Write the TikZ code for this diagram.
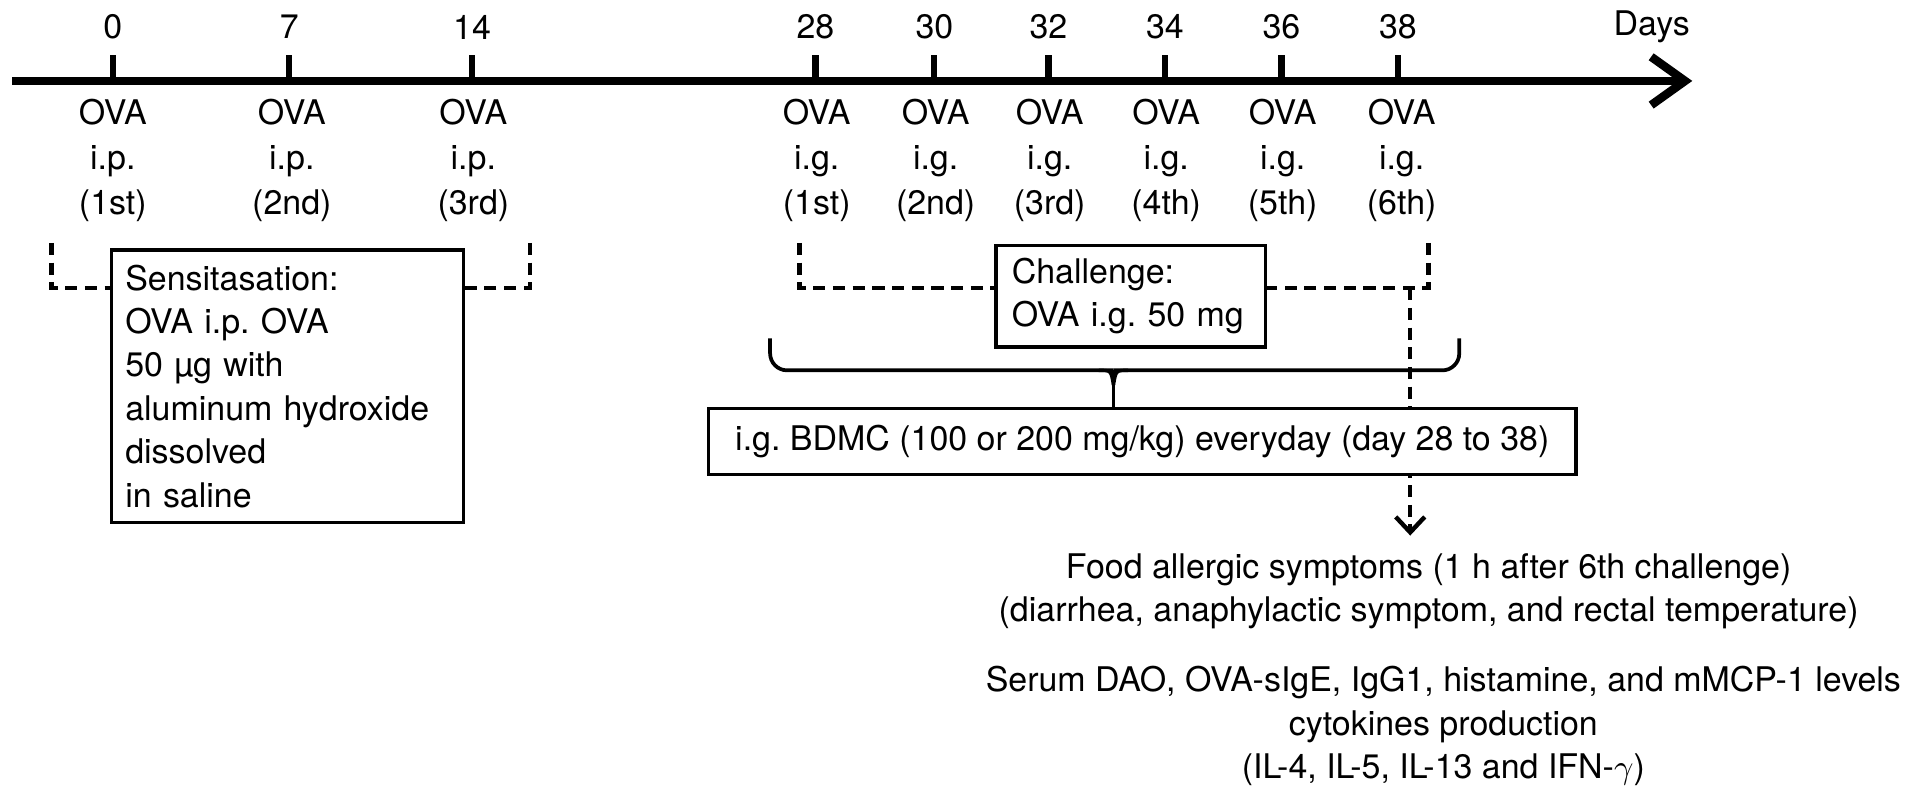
\documentclass[tikz,border=0pt]{standalone}
\usepackage{fontspec}
\setmainfont{TeX Gyre Heros}
\usepackage{tikz}
\usetikzlibrary{arrows.meta}
\frenchspacing

\begin{document}
\begin{tikzpicture}[x=0.0127cm, y=-0.0127cm, >={Straight Barb[length=1.6mm,width=3mm]},
    every node/.style={font=\fontsize{10}{12.8}\selectfont},
    dayLabel/.style={inner sep=1pt},
    doseLabel/.style={align=center, inner sep=1pt, font=\fontsize{10}{13.3}\selectfont},
    dayTick/.style={line width=1.8pt},
    infoBox/.style={rectangle, draw, line width=1pt, fill=white, inner sep=0pt},
    dashLine/.style={line width=1.3pt, dash pattern=on 3.6pt off 2.2pt},
    braceLine/.style={line width=1.1pt, rounded corners=5pt}]
    \useasboundingbox (0,0) rectangle (1560,648);
    % Time axis
    \coordinate (axisStart) at (10,66);
    \coordinate (axisEnd) at (1380,66);
    \draw[line width=2.5pt, -{Straight Barb[length=3.5mm,width=5mm]}] (axisStart) -- (axisEnd);
    \node[dayLabel] (daysLabel) at (1347,22) {Days};
    % Ticks: sensitisation
    \draw[dayTick] (92,66) -- (92,45);
    \draw[dayTick] (236,66) -- (236,45);
    \draw[dayTick] (385,66) -- (385,45);
    % Ticks: challenge
    \draw[dayTick] (665,66) -- (665,45);
    \draw[dayTick] (762,66) -- (762,45);
    \draw[dayTick] (855,66) -- (855,45);
    \draw[dayTick] (950,66) -- (950,45);
    \draw[dayTick] (1045,66) -- (1045,45);
    \draw[dayTick] (1140,66) -- (1140,45);
    % Day numbers
    \node[dayLabel] (day0) at (92,22) {0};
    \node[dayLabel] (day7) at (236,22) {7};
    \node[dayLabel] (day14) at (385,22) {14};
    \node[dayLabel] (day28) at (665,22) {28};
    \node[dayLabel] (day30) at (762,22) {30};
    \node[dayLabel] (day32) at (855,22) {32};
    \node[dayLabel] (day34) at (950,22) {34};
    \node[dayLabel] (day36) at (1045,22) {36};
    \node[dayLabel] (day38) at (1140,22) {38};
    % Doses under the axis
    \node[doseLabel] (dose0) at (92,131) {OVA\\i.p.\\(1st)};
    \node[doseLabel] (dose7) at (238,131) {OVA\\i.p.\\(2nd)};
    \node[doseLabel] (dose14) at (386,131) {OVA\\i.p.\\(3rd)};
    \node[doseLabel] (dose28) at (666,131) {OVA\\i.g.\\(1st)};
    \node[doseLabel] (dose30) at (763,131) {OVA\\i.g.\\(2nd)};
    \node[doseLabel] (dose32) at (856,131) {OVA\\i.g.\\(3rd)};
    \node[doseLabel] (dose34) at (951,131) {OVA\\i.g.\\(4th)};
    \node[doseLabel] (dose36) at (1046,131) {OVA\\i.g.\\(5th)};
    \node[doseLabel] (dose38) at (1143,131) {OVA\\i.g.\\(6th)};
    % Rectangle: Sensitasation
    \node[infoBox, minimum width=3.645cm, minimum height=2.82cm, text width=3.36cm, align=left] (sensitisation) at (234.5,315) {Sensitasation:\\OVA i.p. OVA\\50 µg with\\aluminum hydroxide\\dissolved\\in saline};
    \coordinate (sensBracketL) at (42,198);
    \coordinate (sensBracketR) at (432,198);
    \draw[dashLine] (sensBracketL) |- (sensitisation.west |- 0,235);
    \draw[dashLine] (sensBracketR) |- (sensitisation.east |- 0,235);
    % Rectangle: Challenge
    \node[infoBox, minimum width=2.79cm, minimum height=1.054cm, text width=2.46cm, align=left] (challenge) at (922,241.5) {Challenge:\\OVA i.g. 50 mg};
    \coordinate (chalBracketL) at (652,198);
    \coordinate (chalBracketR) at (1165,198);
    \draw[dashLine] (chalBracketL) |- (challenge.west |- 0,235);
    \draw[dashLine] (chalBracketR) |- (challenge.east |- 0,235);
    % Read-outs
    \node[align=center, inner sep=1pt] (foodSymptoms) at (1165,482) {Food allergic symptoms (1 h after 6th challenge)\\(diarrhea, anaphylactic symptom, and rectal temperature)};
    \node[align=center, inner sep=1pt] (serumLevels) at (1177,592) {Serum DAO, OVA-sIgE, IgG1, histamine, and mMCP-1 levels\\cytokines production\\(IL-4, IL-5, IL-13 and IFN-$\gamma$)};
    % Arrow to read-outs
    \coordinate (arrowStart) at (1150,235);
    \draw[dashLine, ->, shorten >=4pt] (arrowStart) -- (foodSymptoms.north -| arrowStart);
    % Rectangle: BDMC treatment
    \node[infoBox, minimum width=8.98cm, minimum height=0.686cm] (bdmc) at (931.5,360) {i.g. BDMC (100 or 200 mg/kg) everyday (day 28 to 38)};
    % Brace over the treatment days
    \coordinate (braceL) at (628,276);
    \coordinate (braceR) at (1190,276);
    \coordinate (braceMid) at (908,302);
    \draw[braceLine] (braceL) |- (braceMid);
    \draw[braceLine] (braceR) |- (braceMid);
    \draw[line width=1.1pt] (braceMid) -- (bdmc.north -| braceMid);
    \draw[line width=1pt] (896,302) .. controls (906,302) .. (908,314);
    \draw[line width=1pt] (920,302) .. controls (910,302) .. (908,314);
\end{tikzpicture}
\end{document}
